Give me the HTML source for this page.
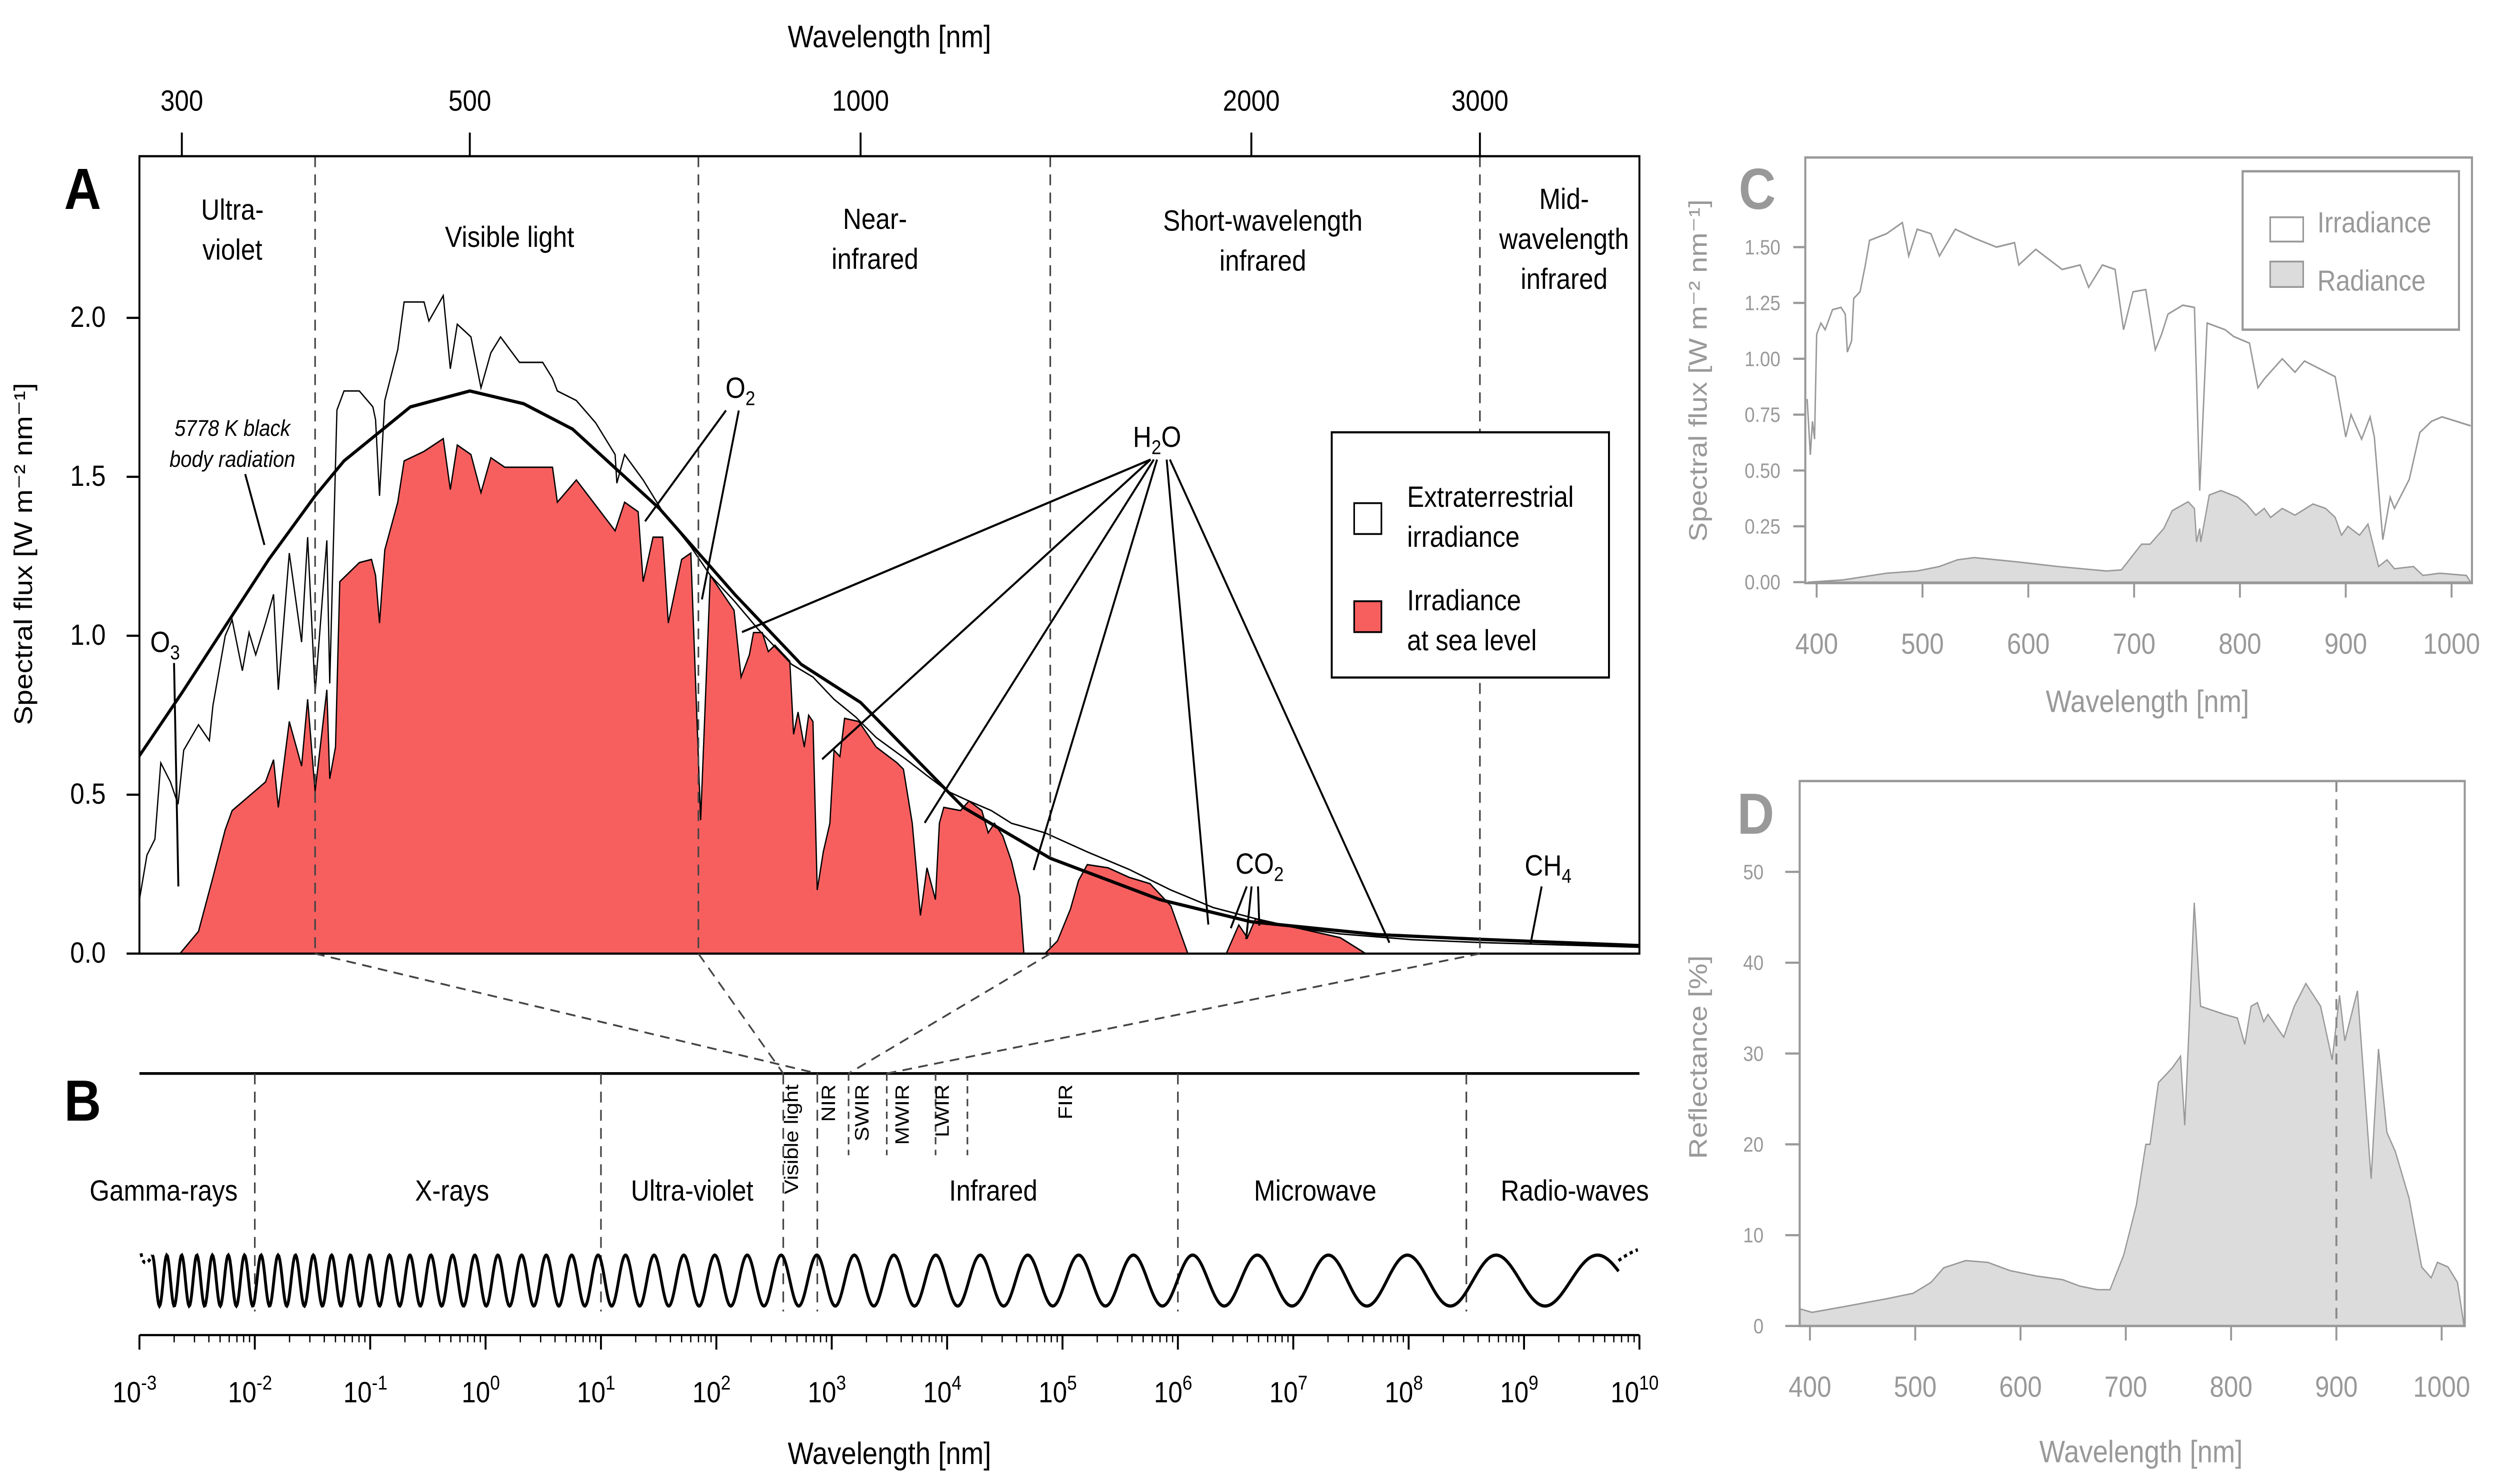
<!DOCTYPE html>
<html><head><meta charset="utf-8">
<style>
html,body{margin:0;padding:0;background:#fff;width:100%;height:100%;overflow:hidden;}
svg{display:block;font-family:"Liberation Sans",Arial,sans-serif;width:100vw;height:100vh;}
</style></head>
<body>
<svg id="fig" viewBox="0 0 1560 817" preserveAspectRatio="none" xmlns="http://www.w3.org/2000/svg">
<defs>
<clipPath id="clipA"><rect x="87" y="86" width="936" height="439"/></clipPath>
<clipPath id="clipC"><rect x="1126.5" y="86.7" width="416" height="234.3"/></clipPath>
<clipPath id="clipD"><rect x="1123" y="430" width="415" height="300"/></clipPath>
</defs>
<g id="gA"></g>
<g id="gB"></g>
<g id="gC"></g>
<g id="gD"></g>
</svg>
<script>
// ---------- Panel A data ----------
const etWl = [278,282,286,289,294,298,301,309,315,317,
324,328,334,338,342,348,353,356,363,371,
375,380,388,390,395,400,411,421,423,426,
430,440,445,461,465,477,483,489,501,510,
519,528,546,569,579,584,604,625,647,649,
658,680,704,740,766,799,834,
885,919,954,991,1028,1085,1125,1168,1212,1261,
1307,1387,1495,1610,1734,1869,2015,2173,2342,2657,3000,3981];
const etV = [0.16,0.31,0.36,0.60,0.54,0.47,0.64,0.72,0.67,0.78,
1.0,1.05,0.89,1.01,0.94,1.04,1.13,0.83,1.26,0.98,
1.31,0.82,1.30,0.85,1.71,1.77,1.77,1.72,1.68,1.44,
1.74,1.90,2.05,2.05,1.99,2.07,1.84,1.98,1.94,1.78,
1.89,1.94,1.86,1.86,1.81,1.77,1.74,1.67,1.57,1.48,
1.57,1.49,1.39,1.28,1.19,1.11,1.02,
0.91,0.87,0.80,0.745,0.68,0.61,0.56,0.51,0.48,0.45,
0.41,0.38,0.32,0.265,0.20,0.145,0.11,0.08,0.062,0.044,0.035,0.02];
const bbWl = [278,300,324,350,380,400,450,500,550,600,700,800,900,1000,1200,1400,1700,2000,2500,3000,4000];
const bbV = [0.62,0.82,1.03,1.24,1.44,1.55,1.72,1.77,1.73,1.65,1.40,1.13,0.91,0.79,0.46,0.30,0.17,0.10,0.06,0.045,0.025];
const slWl = [299,309,317,324,328,339,348,353,356,363,
371,375,380,388,390,394,397,411,420,423,
426,430,440,445,461,477,483,489,501,510,
519,532,560,579,584,604,647,658,674,680,
692,704,711,728,740,753,766,799,809,
821,827,840,849,859,882,888,895,905,912,
919,926,936,947,954,964,972,997,1028,1067,
1079,1096,1112,1125,1142,1150,1159,1194,1212,1240,
1254,1268,1287,1307,1326,1336,1387,1418,1451,1472,
1495,1551,1610,1671,1734,1787,1913,1956,1986,2015,
2046,2173,2342,2450];
const slV = [0,0.07,0.24,0.39,0.45,0.50,0.54,0.61,0.46,0.73,
0.59,0.80,0.51,0.83,0.55,0.65,1.17,1.23,1.24,1.19,
1.04,1.27,1.42,1.55,1.58,1.62,1.46,1.60,1.57,1.45,
1.56,1.53,1.53,1.53,1.42,1.49,1.33,1.42,1.39,1.17,
1.31,1.31,1.04,1.24,1.26,0.42,1.19,1.08,0.87,
0.94,1.01,1.01,0.95,0.97,0.92,0.69,0.76,0.65,0.75,
0.73,0.20,0.32,0.41,0.64,0.62,0.74,0.73,0.65,0.60,
0.58,0.41,0.12,0.27,0.17,0.41,0.46,0.45,0.48,0.45,
0.38,0.41,0.37,0.29,0.18,0,0,0.04,0.14,0.23,
0.28,0.27,0.24,0.22,0.15,0,0,0.09,0.05,0.11,
0.10,0.08,0.05,0];
const topTicks = [300,500,1000,2000,3000];
const yTicksA = [0,0.5,1.0,1.5,2.0];
const regionBounds = [380,750,1400,3000];
// ---------- Panel B data ----------
const decades = [-3,-2,-1,0,1,2,3,4,5,6,7,8,9,10];
const bandBounds = [-2,1,2.58,2.875,6,8.5];
const bandNames = ["Gamma-rays","X-rays","Ultra-violet","Infrared","Microwave","Radio-waves"];
const bandCenters = [-2.79,-0.29,1.79,4.4,7.19,9.44];
// ---------- Panel C data ----------
const irrWl = [391,394,396,398,400,404,408,415,423,427,
429,433,435,441,446,450,466,481,487,495,
508,516,531,549,570,587,591,607,632,649,
657,670,682,690,699,711,720,726,732,746,
757,762,769,786,794,809,817,823,840,852,
861,890,900,905,915,923,927,935,942,946,
960,970,981,991,1018];
const irrV = [0.82,0.57,0.72,0.64,1.11,1.16,1.13,1.22,1.23,1.2,
1.03,1.08,1.27,1.30,1.42,1.53,1.56,1.61,1.46,1.58,
1.56,1.46,1.58,1.54,1.50,1.52,1.42,1.49,1.40,1.42,
1.32,1.42,1.40,1.13,1.30,1.31,1.04,1.11,1.20,1.24,
1.23,0.41,1.16,1.13,1.10,1.07,0.87,0.91,1.00,0.94,
0.99,0.92,0.65,0.75,0.64,0.74,0.65,0.19,0.38,0.33,
0.46,0.67,0.72,0.74,0.70];
const radWl = [392,425,466,495,516,533,549,570,591,628,
674,688,707,715,728,736,751,757,759,762,
763,771,782,798,806,815,823,829,840,852,
869,881,890,896,902,913,921,931,939,946,
964,973,989,1014,1018];
const radV = [0,0.01,0.04,0.05,0.07,0.10,0.11,0.10,0.09,0.07,
0.05,0.055,0.17,0.17,0.24,0.32,0.36,0.33,0.18,0.24,
0.18,0.39,0.41,0.38,0.35,0.30,0.33,0.29,0.33,0.30,
0.35,0.33,0.29,0.21,0.25,0.21,0.26,0.07,0.10,0.06,
0.07,0.03,0.04,0.03,0];
const cXTicks = [400,500,600,700,800,900,1000];
const cYTicks = [0,0.25,0.5,0.75,1.0,1.25,1.5];
// ---------- Panel D data ----------
const dWl = [390,402,431,473,498,515,527,548,569,590,
615,640,656,673,685,698,710,719,723,731,
744,752,756,760,765,771,781,794,806,813,
819,825,831,835,850,860,871,885,896,903,
908,920,933,940,948,956,969,981,990,996,
1006,1015,1021];
const reflV = [1.9,1.5,2.1,3.0,3.6,4.8,6.4,7.2,7.0,6.1,
5.5,5.1,4.4,4.0,4.0,7.8,13.3,20.0,20.0,26.8,
28.4,29.7,22.1,32.7,46.6,35.2,34.8,34.3,33.9,31.0,
35.2,35.6,33.5,34.3,31.8,35.2,37.7,35.2,29.3,36.4,
31.4,36.9,16.2,30.5,21.3,19.2,14.1,6.5,5.3,7.0,
6.5,4.8,0.2];
const dXTicks = [400,500,600,700,800,900,1000];
const dYTicks = [0,10,20,30,40,50];

const NS="http://www.w3.org/2000/svg";
function mk(tag,parent,attrs,text){const e=document.createElementNS(NS,tag);for(const k in attrs)e.setAttribute(k,attrs[k]);if(text!==undefined)e.textContent=text;parent.appendChild(e);return e;}
const xA=l=>537+810*Math.log10(l/1000);
const yA=v=>525-175*v;
const xB=d=>87+72*(d+3);
const xC=n=>1133.6+(n-400)*0.6603;
const yC=v=>320.5-122.97*v;
const xD=n=>1129.4+(n-400)*0.657;
const yD=r=>730-5*r;
function linePath(xs,ys,fx,fy){return xs.map((x,i)=>(i?'L':'M')+fx(x).toFixed(2)+' '+fy(ys[i]).toFixed(2)).join(' ');}
function areaPath(xs,ys,fx,fy){return 'M'+fx(xs[0]).toFixed(2)+' '+fy(0)+' '+linePath(xs,ys,fx,fy).replace('M','L')+' L'+fx(xs[xs.length-1]).toFixed(2)+' '+fy(0)+' Z';}

// ================= PANEL A =================
const gA=document.getElementById('gA');
let e;
e=mk('path',gA,{d:areaPath(slWl,slV,xA,yA),fill:'#f75f5f',stroke:'#000','stroke-width':0.8,'clip-path':'url(#clipA)'});


e=mk('path',gA,{d:linePath(etWl,etV,xA,yA),fill:'none',stroke:'#000','stroke-width':0.8,'clip-path':'url(#clipA)'});


e=mk('path',gA,{d:linePath(bbWl,bbV,xA,yA),fill:'none',stroke:'#000','stroke-width':1.8,'clip-path':'url(#clipA)'});


regionBounds.forEach(b=>{
  e=mk('line',gA,{x1:xA(b),x2:xA(b),y1:86,y2:525,stroke:'#444','stroke-width':1,'stroke-dasharray':'6,4'});
  
  
});
e=mk('rect',gA,{x:87,y:86,width:936,height:439,fill:'none',stroke:'#000','stroke-width':1.2});


topTicks.forEach(t=>{
  mk('line',gA,{x1:xA(t),x2:xA(t),y1:86,y2:73,stroke:'#000','stroke-width':1.2});
  e=mk('text',gA,{x:xA(t),y:61,'font-size':16,'text-anchor':'middle'},String(t));
  
  
});
e=mk('text',gA,{x:555,y:26,'font-size':17,'text-anchor':'middle'},'Wavelength [nm]');


yTicksA.forEach(t=>{
  mk('line',gA,{x1:87,x2:79,y1:yA(t),y2:yA(t),stroke:'#000','stroke-width':1.2});
  e=mk('text',gA,{x:66,y:yA(t)+5,'font-size':16,'text-anchor':'end'},t.toFixed(1));
  
  
});
e=mk('text',gA,{x:20,y:305,'font-size':16,'text-anchor':'middle',transform:'rotate(-90 20 305)'},'Spectral flux [W m⁻² nm⁻¹]');


e=mk('text',gA,{x:40,y:115,'font-size':32,'font-weight':'bold'},'A');


[[145,121,'Ultra-'],[145,143,'violet'],[318,136,'Visible light'],[546,126,'Near-'],[546,148,'infrared'],[788,127,'Short-wavelength'],[788,149,'infrared'],[976,115,'Mid-'],[976,137,'wavelength'],[976,159,'infrared']].forEach(r=>{
  e=mk('text',gA,{x:r[0],y:r[1],'font-size':16,'text-anchor':'middle'},r[2]);
  
  
});
mk('text',gA,{x:145,y:240,'font-size':12.5,'font-style':'italic','text-anchor':'middle'},'5778 K black');
mk('text',gA,{x:145,y:257,'font-size':12.5,'font-style':'italic','text-anchor':'middle'},'body radiation');
const ann=[[153,261,165,300],[108.6,365,111.3,488],[453,226,402.5,287],[461,226,438,330],
[718,253,463,348],[718,253,513,418],[720,253,577,453],[722,253,645,479],[728,253,754,509],[730,253,867,519],
[778,488,768,511],[781,488,777.6,517],[785,488,785.8,509.6],[962,488,955,520]];
ann.forEach(a=>{e=mk('line',gA,{x1:a[0],y1:a[1],x2:a[2],y2:a[3],stroke:'#000','stroke-width':1.2});
  
  });
function chem(x,y,base,sub,name){e=mk('text',gA,{x:x,y:y,'font-size':16,'text-anchor':'middle'});
  
  
  mk('tspan',e,{},base);mk('tspan',e,{'font-size':11,dy:4},sub);}
chem(103,359,'O','3','o3-label');chem(462,219,'O','2','o2-label');chem(722,246,'H','2','h2o-label');
mk('tspan',gA.lastChild,{dy:-4},'O');
chem(786,481,'CO','2','co2-label');chem(966,482,'CH','4','ch4-label');
e=mk('rect',gA,{x:831,y:238,width:173,height:135,fill:'#fff',stroke:'#000','stroke-width':1.2});


e=mk('rect',gA,{x:845,y:277,width:17,height:17,fill:'#fff',stroke:'#000','stroke-width':1});


e=mk('rect',gA,{x:845,y:331,width:17,height:17,fill:'#f75f5f',stroke:'#000','stroke-width':1});


[[279,'Extraterrestrial'],[301,'irradiance'],[336,'Irradiance'],[358,'at sea level']].forEach(r=>{
  e=mk('text',gA,{x:878,y:r[0],'font-size':16},r[1]);
  
  
});

// ================= PANEL B =================
const gB=document.getElementById('gB');
e=mk('line',gB,{x1:87,x2:1023,y1:591,y2:591,stroke:'#000','stroke-width':1.5});


const conn=[380,750,1400,3000];
const connTo=[2.875,2.58,3.146,3.477];
conn.forEach((c,i)=>{e=mk('line',gB,{x1:xA(c),y1:525,x2:xB(connTo[i]),y2:591,stroke:'#444','stroke-width':1,'stroke-dasharray':'6,4'});
  
  });
bandBounds.forEach(b=>{e=mk('line',gB,{x1:xB(b),x2:xB(b),y1:591,y2:722,stroke:'#444','stroke-width':1,'stroke-dasharray':'6,4'});
  
  });
[3.146,3.477,3.9,4.176].forEach(b=>{mk('line',gB,{x1:xB(b),x2:xB(b),y1:591,y2:636,stroke:'#444','stroke-width':1,'stroke-dasharray':'4,3'});});
bandNames.forEach((n,i)=>{e=mk('text',gB,{x:xB(bandCenters[i]),y:661,'font-size':16,'text-anchor':'middle'},n);
  
  });
[[498,'Visible light'],[521,'NIR'],[542,'SWIR'],[567,'MWIR'],[592,'LWIR'],[669,'FIR']].forEach(r=>{
  e=mk('text',gB,{x:r[0],y:597,'font-size':12,'text-anchor':'end',transform:'rotate(-90 '+r[0]+' 597)'},r[1]);
  
  
});
(function(){const k=Math.log(70/9)/915;let d='';for(let x=95;x<=1010;x+=0.5){const ph=2*Math.PI/(9*k)*(1-Math.exp(-k*(x-95)));d+=(x===95?'M':'L')+x+' '+(705-14*Math.cos(ph)).toFixed(2)+' ';}
e=mk('path',gB,{d:d,fill:'none',stroke:'#000','stroke-width':1.8});


mk('path',gB,{d:'M88 690 Q90 700 95 691',fill:'none',stroke:'#000','stroke-width':1.8,'stroke-dasharray':'2,2'});
mk('path',gB,{d:'M1010 694 Q1016 690 1022 688',fill:'none',stroke:'#000','stroke-width':1.8,'stroke-dasharray':'2,2'});})();
e=mk('line',gB,{x1:87,x2:1023,y1:735,y2:735,stroke:'#000','stroke-width':1.2});


decades.forEach(d=>{
  mk('line',gB,{x1:xB(d),x2:xB(d),y1:735,y2:743,stroke:'#000','stroke-width':1.2});
  if(d<10){for(let m=2;m<10;m++){const xx=xB(d+Math.log10(m));mk('line',gB,{x1:xx,x2:xx,y1:735,y2:739,stroke:'#000','stroke-width':0.8});}}
  e=mk('text',gB,{x:xB(d)-3,y:772,'font-size':16,'text-anchor':'middle'});
  
  
  mk('tspan',e,{},'10');mk('tspan',e,{'font-size':11,dy:-7},String(d));
});
e=mk('text',gB,{x:555,y:806,'font-size':17,'text-anchor':'middle'},'Wavelength [nm]');


e=mk('text',gB,{x:40,y:617,'font-size':32,'font-weight':'bold'},'B');



// ================= PANEL C =================
const G='#999';
const gC=document.getElementById('gC');
e=mk('path',gC,{d:areaPath(radWl,radV,xC,yC),fill:'#dcdcdc',stroke:G,'stroke-width':0.8,'clip-path':'url(#clipC)'});


e=mk('path',gC,{d:linePath(irrWl,irrV,xC,yC),fill:'none',stroke:G,'stroke-width':0.9,'clip-path':'url(#clipC)'});


e=mk('rect',gC,{x:1126.5,y:86.7,width:416,height:234.3,fill:'none',stroke:G,'stroke-width':1.3});


cXTicks.forEach(t=>{mk('line',gC,{x1:xC(t),x2:xC(t),y1:321,y2:329,stroke:G,'stroke-width':1.2});
  e=mk('text',gC,{x:xC(t),y:360,'font-size':16,'text-anchor':'middle',fill:G},String(t));
  
  });
cYTicks.forEach(t=>{mk('line',gC,{x1:1126.5,x2:1119,y1:yC(t),y2:yC(t),stroke:G,'stroke-width':1.2});
  e=mk('text',gC,{x:1111,y:yC(t)+4,'font-size':11.5,'text-anchor':'end',fill:G},t.toFixed(2));
  
  });
e=mk('text',gC,{x:1340,y:392,'font-size':17,'text-anchor':'middle',fill:G},'Wavelength [nm]');


e=mk('text',gC,{x:1065,y:204,'font-size':16,'text-anchor':'middle',fill:G,transform:'rotate(-90 1065 204)'},'Spectral flux [W m⁻² nm⁻¹]');


e=mk('text',gC,{x:1085,y:115,'font-size':32,'font-weight':'bold',fill:G},'C');


e=mk('rect',gC,{x:1399.4,y:94.3,width:135,height:87.2,fill:'#fff',stroke:G,'stroke-width':1.3});


mk('rect',gC,{x:1416.6,y:119.6,width:20.6,height:13.4,fill:'#fff',stroke:G,'stroke-width':1});
mk('rect',gC,{x:1416.6,y:144,width:20.6,height:14,fill:'#dcdcdc',stroke:G,'stroke-width':1});
e=mk('text',gC,{x:1446,y:128,'font-size':16,fill:G},'Irradiance');


e=mk('text',gC,{x:1446,y:160,'font-size':16,fill:G},'Radiance');



// ================= PANEL D =================
const gD=document.getElementById('gD');
e=mk('path',gD,{d:areaPath(dWl,reflV,xD,yD),fill:'#dcdcdc',stroke:G,'stroke-width':0.8,'clip-path':'url(#clipD)'});


e=mk('line',gD,{x1:xD(900),x2:xD(900),y1:430,y2:730,stroke:'#888','stroke-width':1.2,'stroke-dasharray':'6,4'});


e=mk('rect',gD,{x:1123,y:430,width:415,height:300,fill:'none',stroke:G,'stroke-width':1.3});


dXTicks.forEach(t=>{mk('line',gD,{x1:xD(t),x2:xD(t),y1:730,y2:738,stroke:G,'stroke-width':1.2});
  e=mk('text',gD,{x:xD(t),y:769,'font-size':16,'text-anchor':'middle',fill:G},String(t));
  
  });
dYTicks.forEach(t=>{mk('line',gD,{x1:1123,x2:1114,y1:yD(t),y2:yD(t),stroke:G,'stroke-width':1.2});
  e=mk('text',gD,{x:1100.5,y:yD(t)+4,'font-size':11.5,'text-anchor':'end',fill:G},String(t));
  
  });
e=mk('text',gD,{x:1336,y:805,'font-size':17,'text-anchor':'middle',fill:G},'Wavelength [nm]');


e=mk('text',gD,{x:1065,y:582,'font-size':16,'text-anchor':'middle',fill:G,transform:'rotate(-90 1065 582)'},'Reflectance [%]');


e=mk('text',gD,{x:1084,y:459,'font-size':32,'font-weight':'bold',fill:G},'D');


</script>
</body></html>
